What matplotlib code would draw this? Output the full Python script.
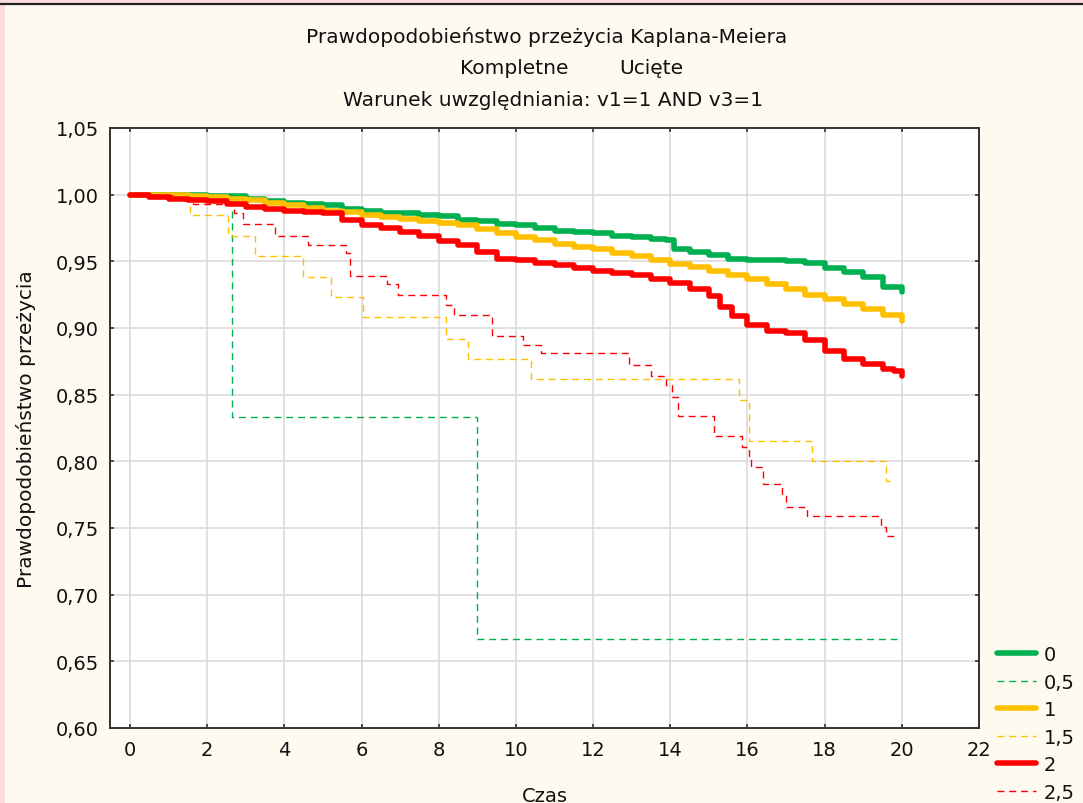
import matplotlib
matplotlib.use("Agg")
import matplotlib.pyplot as plt
from matplotlib.patches import Rectangle
from matplotlib.lines import Line2D

plt.rcParams['font.family'] = ['DejaVu Sans']

# ---- data ----
t_g = [0, 0.5, 1.0, 1.5, 2.0, 2.5, 3.0, 3.5, 4.0, 4.5, 5.0, 5.5, 6.0, 6.5, 7.0, 7.5, 8.0, 8.5, 9.0, 9.5,
       10.0, 10.5, 11.0, 11.5, 12.0, 12.5, 13.0, 13.5, 13.9, 14.1, 14.5, 15.0, 15.5, 16.0, 16.5, 17.0,
       17.5, 18.0, 18.5, 19.0, 19.5, 20.0]
s_g = [1.0, 1.0, 1.0, 0.9995, 0.999, 0.999, 0.997, 0.995, 0.994, 0.993, 0.992, 0.989, 0.988, 0.986,
       0.986, 0.985, 0.984, 0.981, 0.980, 0.978, 0.977, 0.975, 0.973, 0.972, 0.971, 0.969, 0.968, 0.967,
       0.966, 0.959, 0.957, 0.955, 0.952, 0.951, 0.951, 0.950, 0.949, 0.945, 0.942, 0.938, 0.931, 0.927]

t_gd = [0, 2.65, 9.0, 20.0]
s_gd = [1.0, 0.833, 0.667, 0.667]

t_y = [0, 0.5, 1.0, 1.5, 2.0, 2.5, 3.0, 3.5, 4.0, 4.5, 5.0, 5.5, 6.0, 6.5, 7.0, 7.5, 8.0, 8.5, 9.0, 9.5,
       10.0, 10.5, 11.0, 11.5, 12.0, 12.5, 13.0, 13.5, 14.0, 14.5, 15.0, 15.5, 16.0, 16.5, 17.0, 17.5,
       18.0, 18.5, 19.0, 19.5, 20.0]
s_y = [1.0, 1.0, 1.0, 0.999, 0.998, 0.997, 0.996, 0.994, 0.992, 0.990, 0.988, 0.987, 0.985, 0.983,
       0.982, 0.980, 0.979, 0.977, 0.974, 0.971, 0.968, 0.966, 0.963, 0.961, 0.959, 0.956, 0.954, 0.951,
       0.948, 0.946, 0.943, 0.940, 0.937, 0.933, 0.929, 0.925, 0.922, 0.918, 0.914, 0.910, 0.905]

t_yd = [0, 1.55, 2.54, 3.24, 4.49, 5.22, 6.04, 8.2, 8.75, 10.4, 15.78, 16.04, 17.68, 19.58, 19.75]
s_yd = [1.0, 0.985, 0.969, 0.954, 0.938, 0.923, 0.908, 0.892, 0.877, 0.862, 0.846, 0.815, 0.800, 0.785, 0.785]

t_r = [0, 0.5, 1.0, 1.5, 2.0, 2.5, 3.0, 3.5, 4.0, 4.5, 5.0, 5.5, 6.0, 6.5, 7.0, 7.5, 8.0, 8.5, 9.0, 9.5,
       10.0, 10.5, 11.0, 11.5, 12.0, 12.5, 13.0, 13.5, 14.0, 14.5, 15.0, 15.3, 15.6, 16.0, 16.5, 17.0,
       17.5, 18.0, 18.5, 19.0, 19.5, 19.8, 20.0]
s_r = [0.9996, 0.998, 0.997, 0.996, 0.995, 0.993, 0.991, 0.989, 0.988, 0.987, 0.986, 0.981, 0.977,
       0.975, 0.972, 0.969, 0.965, 0.962, 0.957, 0.952, 0.951, 0.949, 0.947, 0.945, 0.943, 0.941, 0.940,
       0.937, 0.934, 0.929, 0.924, 0.916, 0.909, 0.902, 0.898, 0.896, 0.891, 0.883, 0.877, 0.873, 0.869,
       0.868, 0.864]

t_rd = [0, 1.1, 1.63, 2.7, 2.92, 3.75, 4.6, 5.6, 5.7, 6.67, 6.94, 8.2, 8.4, 9.37, 10.17, 10.66, 12.94,
        13.5, 13.9, 14.05, 14.2, 15.14, 15.87, 16.04, 16.1, 16.4, 16.9, 17.0, 17.55, 19.45, 19.6, 19.8]
s_rd = [1.0, 0.997, 0.993, 0.986, 0.978, 0.969, 0.962, 0.956, 0.939, 0.933, 0.925, 0.917, 0.910, 0.894,
        0.887, 0.881, 0.872, 0.864, 0.857, 0.848, 0.834, 0.819, 0.811, 0.804, 0.796, 0.783, 0.775, 0.766,
        0.759, 0.751, 0.744, 0.744]

labels = ["0", "0,5", "1", "1,5", "2", "2,5"]
xticks = [0, 2, 4, 6, 8, 10, 12, 14, 16, 18, 20, 22]
yticks = [0.60, 0.65, 0.70, 0.75, 0.80, 0.85, 0.90, 0.95, 1.00, 1.05]

title1 = "Prawdopodobieństwo przeżycia Kaplana-Meiera"
title2a, title2b = "Kompletne", "Ucięte"
title3 = "Warunek uwzględniania: v1=1 AND v3=1"

GREEN, YELLOW, RED = "#00B050", "#FFC000", "#FF0000"
W, H = 1083, 804
TXT = "#111111"

fig = plt.figure(figsize=(W / 100, H / 100), dpi=100)
fig.patch.set_facecolor("#FCDCDF")
fig.add_artist(Rectangle((5 / W, 0), 1, 1 - 6 / H, transform=fig.transFigure,
                         facecolor="#FFFAF0", edgecolor="none", zorder=0))
fig.add_artist(Line2D([0, 1], [1 - 5 / H, 1 - 5 / H], transform=fig.transFigure,
                      color="#222222", lw=1.6, zorder=1))

ax = fig.add_axes([110 / W, 1 - 729 / H, (979 - 110) / W, (729 - 129) / H])
ax.set_facecolor("white")

DASH = (0, (5, 3.5))
series = [
    (t_g, s_g, GREEN, 4.0, "-"),
    (t_gd, s_gd, GREEN, 1.0, DASH),
    (t_y, s_y, YELLOW, 4.0, "-"),
    (t_yd, s_yd, YELLOW, 1.0, DASH),
    (t_r, s_r, RED, 4.0, "-"),
    (t_rd, s_rd, RED, 1.0, DASH),
]
handles = []
for (t, s, c, lw, ls), lab in zip(series, labels):
    h, = ax.plot(t, s, drawstyle="steps-post", color=c, lw=lw, ls=ls,
                 solid_capstyle="round", solid_joinstyle="round", label=lab, zorder=3)
    handles.append(h)

ax.set_xlim(-0.52, 22)
ax.set_ylim(0.60, 1.05)
ax.set_xticks(xticks)
ax.set_yticks(yticks)
ax.set_yticklabels([f"{v:.2f}".replace(".", ",") for v in yticks])
ax.grid(True, color="#DCDCDC", lw=1.2, zorder=1)
ax.set_axisbelow(True)
ax.tick_params(direction="in", length=3, width=1.2, color="#333333",
               top=True, right=True, labelsize=14, pad=8, labelcolor=TXT)
ax.tick_params(axis="x", pad=9)
for sp in ax.spines.values():
    sp.set_color("#333333")
    sp.set_linewidth(1.4)

ax.set_xlabel("Czas", fontsize=14, labelpad=19, color=TXT)
ax.set_ylabel("Prawdopodobieństwo przeżycia", fontsize=14.5, labelpad=14, color=TXT)

fig.text(547 / W, 1 - 37 / H, title1, ha="center", va="center", fontsize=14.5, color=TXT)
fig.text(514 / W, 1 - 68 / H, title2a, ha="center", va="center", fontsize=14.5, color=TXT)
fig.text(651 / W, 1 - 68 / H, title2b, ha="center", va="center", fontsize=14.5, color=TXT)
fig.text(553 / W, 1 - 100 / H, title3, ha="center", va="center", fontsize=14.5, color=TXT)

fig.legend(handles=handles, labels=labels, loc="upper left",
           bbox_to_anchor=(997 / W, 1 - 646 / H), frameon=False, fontsize=14,
           handlelength=2.0, handletextpad=0.4, labelspacing=0.44,
           borderpad=0, borderaxespad=0, labelcolor=TXT)

fig.savefig("out.png", dpi=100, facecolor=fig.get_facecolor())
